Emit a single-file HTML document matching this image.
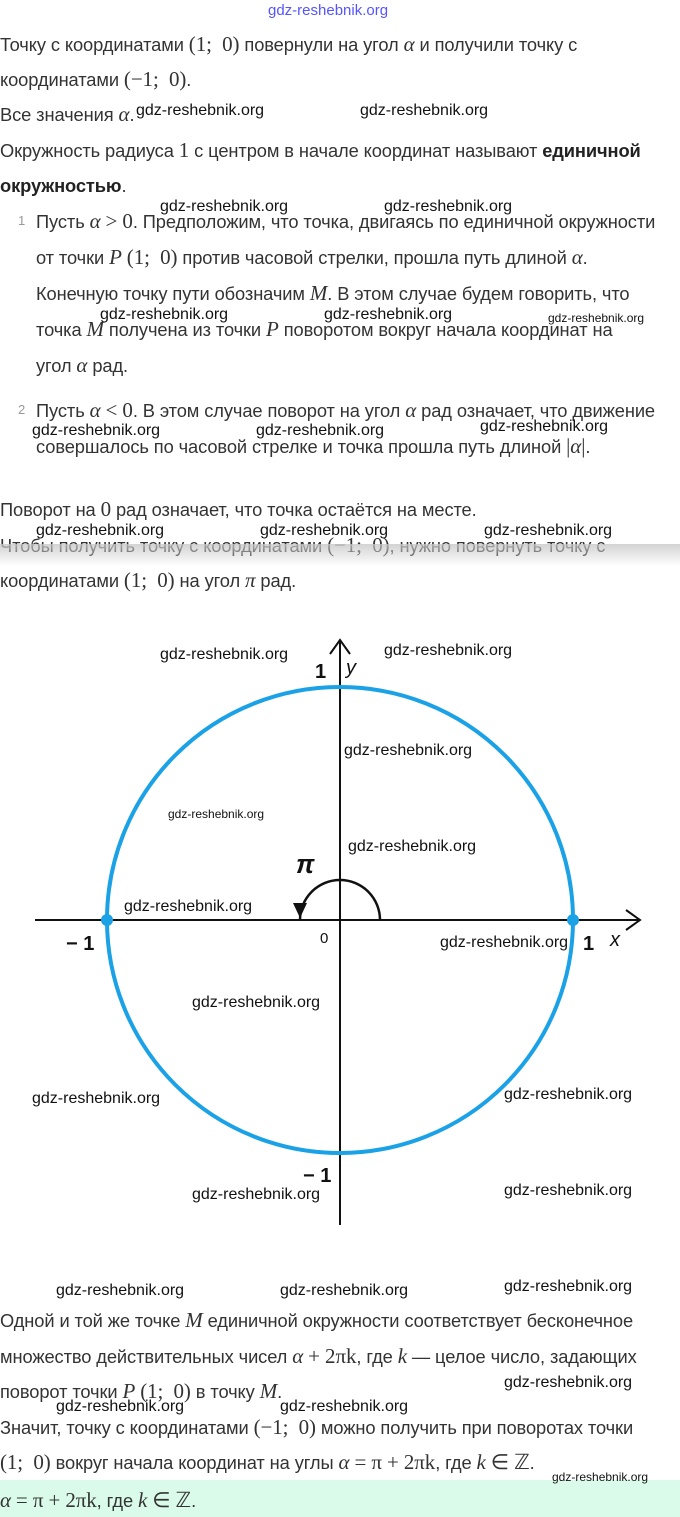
<!DOCTYPE html>
<html><head><meta charset="utf-8"><style>
body{margin:0;width:680px;height:1517px;background:#fff;position:relative;overflow:hidden;font-family:"Liberation Sans",sans-serif;color:#333;}
.t{position:absolute;left:0;font-size:18.3px;white-space:nowrap;line-height:20px;letter-spacing:-0.1px;}
.m{font-family:"Liberation Serif",serif;font-size:21px;}
.i{font-family:"Liberation Serif",serif;font-style:italic;font-size:21px;}
.w{position:absolute;font-size:16px;color:#111;white-space:nowrap;font-family:"Liberation Sans Narrow","Liberation Sans",sans-serif;}
.n{position:absolute;font-size:13px;color:#999;}
</style></head><body>
<div class="w" style="left:268px;top:2px;color:#55f;font-size:15px">gdz-reshebnik.org</div>
<div class="t" style="top:34px">Точку с координатами <span class="m">(1;&nbsp; 0)</span> повернули на угол <span class="i">α</span> и получили точку с</div>
<div class="t" style="top:69px">координатами <span class="m">(−1;&nbsp; 0)</span>.</div>
<div class="t" style="top:104px">Все значения <span class="i">α</span>.</div>
<div class="t" style="top:140px">Окружность радиуса <span class="m">1</span> с центром в начале координат называют <b style="color:#222">единичной</b></div>
<div class="t" style="top:176px"><b style="color:#222">окружностью</b>.</div>
<div class="n" style="left:18px;top:213px">1</div>
<div class="t" style="left:36px;top:211px">Пусть <span class="i">α</span> <span class="m">&gt; 0</span>. Предположим, что точка, двигаясь по единичной окружности</div>
<div class="t" style="left:36px;top:247px">от точки <span class="i">P</span> <span class="m">(1;&nbsp; 0)</span> против часовой стрелки, прошла путь длиной <span class="i">α</span>.</div>
<div class="t" style="left:36px;top:283px">Конечную точку пути обозначим <span class="i">M</span>. В этом случае будем говорить, что</div>
<div class="t" style="left:36px;top:319px">точка <span class="i">M</span> получена из точки <span class="i">P</span> поворотом вокруг начала координат на</div>
<div class="t" style="left:36px;top:355px">угол <span class="i">α</span> рад.</div>
<div class="n" style="left:18px;top:402px">2</div>
<div class="t" style="left:36px;top:400px">Пусть <span class="i">α</span> <span class="m">&lt; 0</span>. В этом случае поворот на угол <span class="i">α</span> рад означает, что движение</div>
<div class="t" style="left:36px;top:436px">совершалось по часовой стрелке и точка прошла путь длиной <span class="m">|<i>α</i>|</span>.</div>
<div class="t" style="top:499px">Поворот на <span class="m">0</span> рад означает, что точка остаётся на месте.</div>
<div class="t" style="top:535px">Чтобы получить точку с координатами <span class="m">(−1;&nbsp; 0)</span>, нужно повернуть точку с</div>
<div style="position:absolute;left:0;top:544px;width:680px;height:22px;background:linear-gradient(rgba(200,200,200,0.8),rgba(255,255,255,0))"></div>
<div class="t" style="top:570px">координатами <span class="m">(1;&nbsp; 0)</span> на угол <span class="i">π</span> рад.</div>

<svg style="position:absolute;left:0;top:0" width="680" height="1517">
<line x1="35" y1="920" x2="640" y2="920" stroke="#111" stroke-width="2"/>
<polyline points="626,910 640,920 626,930" fill="none" stroke="#111" stroke-width="2"/>
<line x1="340" y1="1225" x2="340" y2="640" stroke="#111" stroke-width="2"/>
<polyline points="330,654 340,640 350,654" fill="none" stroke="#111" stroke-width="2"/>
<circle cx="340" cy="920" r="233" fill="none" stroke="#1ba2e6" stroke-width="4"/>
<circle cx="107" cy="920" r="6" fill="#1ba2e6"/>
<circle cx="573" cy="920" r="6" fill="#1ba2e6"/>
<path d="M380,920 A40,40 0 0 0 300,920" fill="none" stroke="#111" stroke-width="2.5"/>
<polygon points="293,903 307,903 300,918" fill="#111"/>
<g font-family="Liberation Sans,sans-serif" font-size="20" fill="#111" font-weight="bold">
<text x="315" y="678">1</text>
<text x="346" y="674" font-style="italic" font-weight="normal">y</text>
<text x="296" y="873" font-style="italic" font-size="26">π</text>
<text x="320" y="943" font-size="15" font-weight="normal">0</text>
<text x="66" y="950">− 1</text>
<text x="583" y="950">1</text>
<text x="610" y="946" font-style="italic" font-weight="normal">x</text>
<text x="303" y="1182">− 1</text>
</g>
</svg>

<div class="t" style="top:1310px">Одной и той же точке <span class="i">M</span> единичной окружности соответствует бесконечное</div>
<div class="t" style="top:1346px">множество действительных чисел <span class="i">α</span> <span class="m">+ 2πk</span>, где <span class="i">k</span> — целое число, задающих</div>
<div class="t" style="top:1381px">поворот точки <span class="i">P</span> <span class="m">(1;&nbsp; 0)</span> в точку <span class="i">M</span>.</div>
<div class="t" style="top:1417px">Значит, точку с координатами <span class="m">(−1;&nbsp; 0)</span> можно получить при поворотах точки</div>
<div class="t" style="top:1452px"><span class="m">(1;&nbsp; 0)</span> вокруг начала координат на углы <span class="i">α</span> <span class="m">= π + 2πk</span>, где <span class="i">k</span> <span class="m">∈ ℤ</span>.</div>
<div style="position:absolute;left:0;top:1480px;width:680px;height:37px;background:#dafbe9"></div>
<div class="t" style="top:1490px"><span class="i">α</span> <span class="m">= π + 2πk</span>, где <span class="i">k</span> <span class="m">∈ ℤ</span>.</div>

<div class="w" style="left:136px;top:102px">gdz-reshebnik.org</div>
<div class="w" style="left:360px;top:102px">gdz-reshebnik.org</div>
<div class="w" style="left:160px;top:198px">gdz-reshebnik.org</div>
<div class="w" style="left:384px;top:198px">gdz-reshebnik.org</div>
<div class="w" style="left:100px;top:306px">gdz-reshebnik.org</div>
<div class="w" style="left:324px;top:306px">gdz-reshebnik.org</div>
<div class="w" style="left:548px;top:311px;font-size:12px">gdz-reshebnik.org</div>
<div class="w" style="left:32px;top:422px">gdz-reshebnik.org</div>
<div class="w" style="left:256px;top:422px">gdz-reshebnik.org</div>
<div class="w" style="left:480px;top:418px">gdz-reshebnik.org</div>
<div class="w" style="left:36px;top:522px">gdz-reshebnik.org</div>
<div class="w" style="left:260px;top:522px">gdz-reshebnik.org</div>
<div class="w" style="left:484px;top:522px">gdz-reshebnik.org</div>
<div class="w" style="left:160px;top:646px">gdz-reshebnik.org</div>
<div class="w" style="left:384px;top:642px">gdz-reshebnik.org</div>
<div class="w" style="left:344px;top:742px">gdz-reshebnik.org</div>
<div class="w" style="left:168px;top:807px;font-size:12px">gdz-reshebnik.org</div>
<div class="w" style="left:348px;top:838px">gdz-reshebnik.org</div>
<div class="w" style="left:124px;top:898px">gdz-reshebnik.org</div>
<div class="w" style="left:440px;top:934px">gdz-reshebnik.org</div>
<div class="w" style="left:192px;top:994px">gdz-reshebnik.org</div>
<div class="w" style="left:32px;top:1090px">gdz-reshebnik.org</div>
<div class="w" style="left:504px;top:1086px">gdz-reshebnik.org</div>
<div class="w" style="left:192px;top:1186px">gdz-reshebnik.org</div>
<div class="w" style="left:504px;top:1182px">gdz-reshebnik.org</div>
<div class="w" style="left:56px;top:1282px">gdz-reshebnik.org</div>
<div class="w" style="left:280px;top:1282px">gdz-reshebnik.org</div>
<div class="w" style="left:504px;top:1278px">gdz-reshebnik.org</div>
<div class="w" style="left:504px;top:1374px">gdz-reshebnik.org</div>
<div class="w" style="left:56px;top:1398px">gdz-reshebnik.org</div>
<div class="w" style="left:280px;top:1398px">gdz-reshebnik.org</div>
<div class="w" style="left:552px;top:1470px;font-size:12px">gdz-reshebnik.org</div>
</body></html>
